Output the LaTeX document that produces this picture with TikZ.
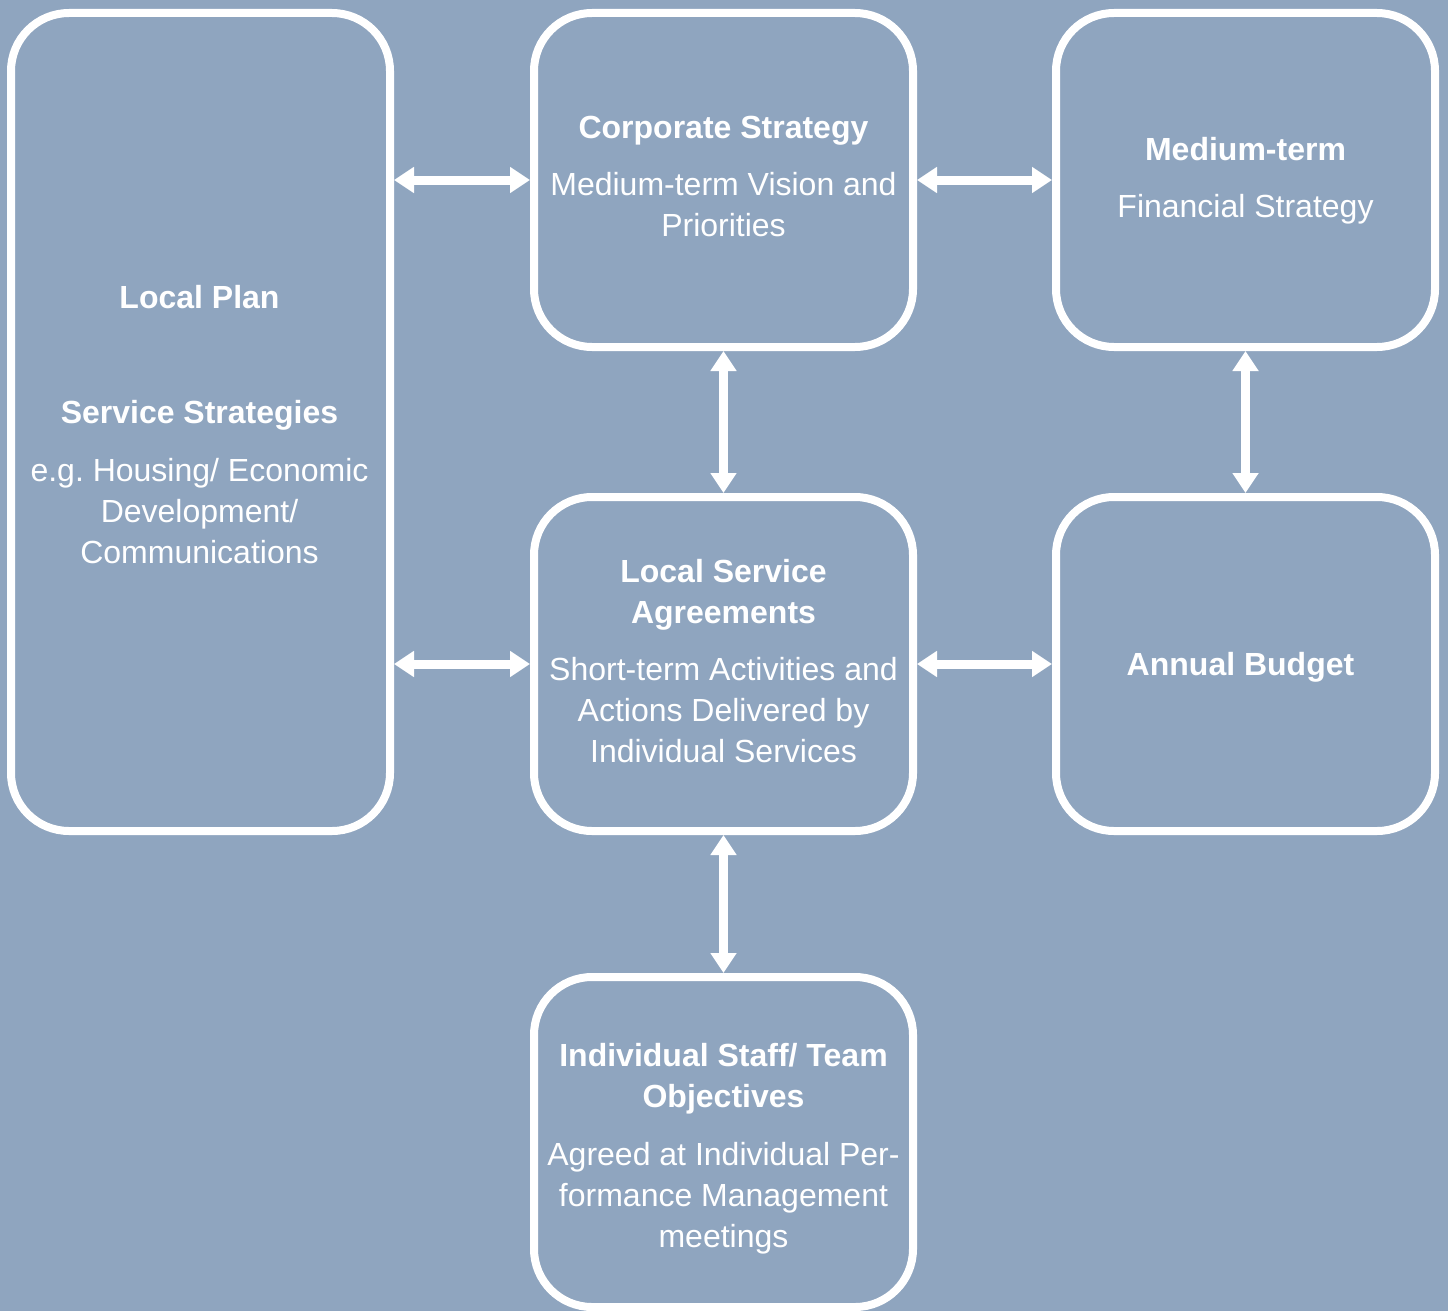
\documentclass[tikz,border=0pt]{standalone}
\usepackage{fontspec}
\setmainfont{Liberation Sans}
\usetikzlibrary{arrows.meta}
\definecolor{bgblue}{RGB}{143,165,191}
\begin{document}
\frenchspacing
\begin{tikzpicture}[x=1pt,y=-1pt,
  box/.style={draw=white, line width=8pt, rounded corners=58pt, minimum width=379pt, inner sep=0pt},
  txt/.style={inner sep=0pt, align=center, text=white, font=\fontsize{32}{41}\selectfont},
  link/.style={draw=white, line width=9pt, {Triangle[width=25pt,length=20pt]}-{Triangle[width=25pt,length=20pt]}}]
\fill[bgblue] (0,0) rectangle (1448,1311);
\useasboundingbox (0,0) rectangle (1448,1311);

\node[box, minimum height=818pt] (lp) at (200.5,422) {};
\node[box, minimum height=334pt] (cs) at (723.5,180) {};
\node[box, minimum height=334pt] (mt) at (1245.5,180) {};
\node[box, minimum height=334pt] (lsa) at (723.5,664) {};
\node[box, minimum height=334pt] (ab) at (1245.5,664) {};
\node[box, minimum height=330pt] (ind) at (723.5,1142) {};

\node[txt, yshift=-3pt, xshift=-1pt] (lpt) at (lp.center) {\textbf{Local Plan}\\[74pt]\textbf{Service Strategies}\\[17pt]e.g. Housing/ Economic\\Development/\\Communications};
\node[txt, yshift=4pt] (cst) at (cs.center) {\textbf{Corporate Strategy}\\[16pt]Medium-term Vision and\\Priorities};
\node[txt, yshift=-1pt] (mtt) at (mt.center) {\textbf{Medium-term}\\[16pt]Financial Strategy};
\node[txt, yshift=3pt] (lsat) at (lsa.center) {\textbf{Local Service}\\\textbf{Agreements}\\[16pt]Short-term Activities and\\Actions Delivered by\\Individual Services};
\node[txt, yshift=-3pt, xshift=-5pt] (abt) at (ab.center) {\textbf{Annual Budget}};
\node[txt, yshift=-7pt] (indt) at (ind.center) {\textbf{Individual Staff/ Team}\\\textbf{Objectives}\\[17pt]Agreed at Individual Per-\\formance Management\\meetings};

\draw[link] (lp.east |- cs.west) -- (cs.west);
\draw[link] (lp.east |- lsa.west) -- (lsa.west);
\draw[link] (cs.east) -- (mt.west);
\draw[link] (lsa.east) -- (ab.west);
\draw[link] (cs.south) -- (lsa.north);
\draw[link] (mt.south) -- (ab.north);
\draw[link] (lsa.south) -- (ind.north);
\end{tikzpicture}
\end{document}
